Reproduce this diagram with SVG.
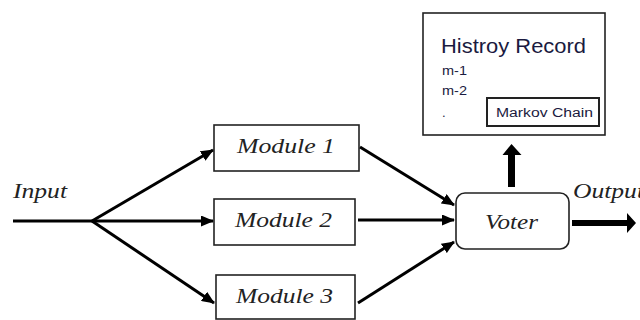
<svg xmlns="http://www.w3.org/2000/svg" width="640" height="320" viewBox="0 0 640 320">
<style>
.box{fill:#fff;stroke:#222;stroke-width:1.6}
.ser{font-family:"Liberation Serif","Times New Roman",serif;font-style:italic;font-size:22px;fill:#222}
.san{font-family:"Liberation Sans",Arial,sans-serif;fill:#1a1a40}
.ln{stroke:#000;stroke-width:3;fill:none}
</style>
<defs>
<marker id="ah" markerUnits="userSpaceOnUse" markerWidth="13" markerHeight="11" refX="12" refY="5.5" orient="auto">
<path d="M0,0 L13,5.5 L0,11 Z" fill="#000"/>
</marker>
</defs>
<rect width="640" height="320" fill="#fff"/>
<g id="history">
<rect x="423" y="13" width="182" height="122" class="box"/>
<text x="441" y="53" class="san" font-size="21" textLength="145" lengthAdjust="spacingAndGlyphs">Histroy Record</text>
<text x="442" y="75" class="san" font-size="13" textLength="25" lengthAdjust="spacingAndGlyphs">m-1</text>
<text x="442" y="95" class="san" font-size="13" textLength="25" lengthAdjust="spacingAndGlyphs">m-2</text>
<text x="442" y="117" class="san" font-size="13">.</text>
</g>
<g id="markov">
<rect x="487" y="98" width="112" height="28" fill="#fff" stroke="#222" stroke-width="2"/>
<text x="496" y="117" class="san" font-size="12.5" textLength="97" lengthAdjust="spacingAndGlyphs">Markov Chain</text>
</g>
<g id="module1">
<rect x="214" y="125" width="145" height="46" class="box"/>
<text x="237" y="153" class="ser" textLength="98" lengthAdjust="spacingAndGlyphs">Module 1</text>
</g>
<g id="module2">
<rect x="214" y="199" width="141" height="46" class="box"/>
<text x="235" y="227" class="ser" textLength="97" lengthAdjust="spacingAndGlyphs">Module 2</text>
</g>
<g id="module3">
<rect x="216" y="275" width="139" height="44" class="box"/>
<text x="236" y="303" class="ser" textLength="97" lengthAdjust="spacingAndGlyphs">Module 3</text>
</g>
<g id="voter">
<rect x="456" y="193" width="113" height="56" rx="9" ry="9" class="box"/>
<text x="485" y="229" class="ser" textLength="53" lengthAdjust="spacingAndGlyphs">Voter</text>
</g>
<g id="labels">
<text x="13" y="198" class="ser" textLength="54" lengthAdjust="spacingAndGlyphs">Input</text>
<text x="573" y="198" class="ser" textLength="71" lengthAdjust="spacingAndGlyphs">Output</text>
</g>
<g id="connectors">
<path class="ln" d="M13,221 L92,221"/>
<path class="ln" d="M92,221 L213,150" marker-end="url(#ah)"/>
<path class="ln" d="M92,221 L213,221" marker-end="url(#ah)"/>
<path class="ln" d="M92,221 L214,303" marker-end="url(#ah)"/>
<path class="ln" d="M360,147 L454,205" marker-end="url(#ah)"/>
<path class="ln" d="M358,220 L454,220" marker-end="url(#ah)"/>
<path class="ln" d="M358,303 L454,242" marker-end="url(#ah)"/>
<path d="M508,187 L508,155 L502.5,155 L511.5,144 L521.5,155 L515,155 L515,187 Z" fill="#000"/>
<path d="M572,220 L627,220 L627,213 L636,223 L627,233 L627,226 L572,226 Z" fill="#000"/>
</g>
</svg>
